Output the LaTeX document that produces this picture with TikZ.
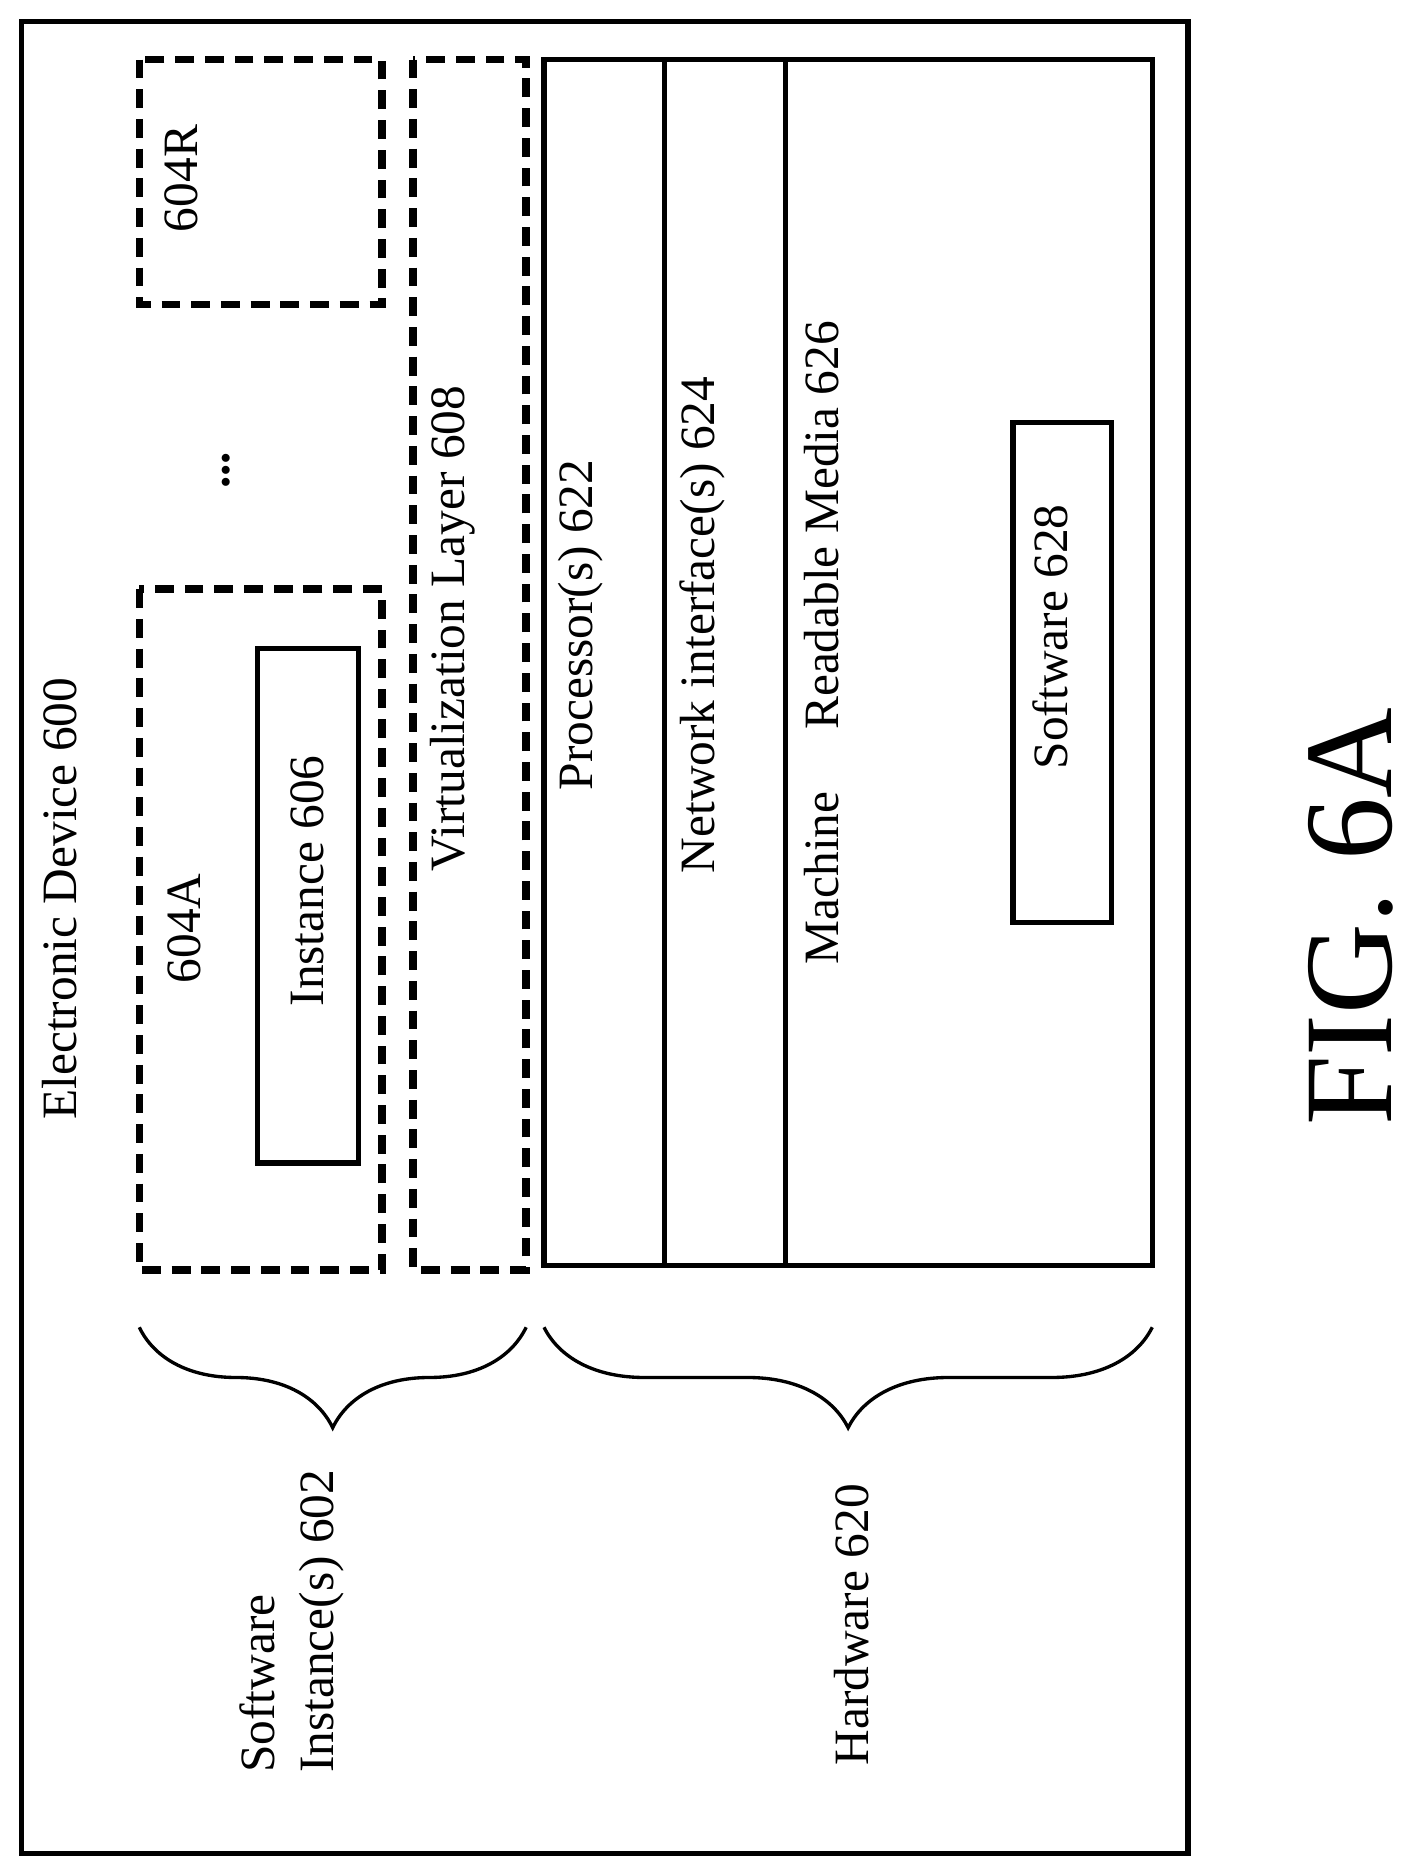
\documentclass[tikz,border=0pt]{standalone}
\usepackage{fontspec}
\setmainfont{Liberation Serif}
\usetikzlibrary{decorations.pathreplacing}
\begin{document}
\begin{tikzpicture}[x=0.01cm, y=-0.01cm, very thick,
                    dbox/.style={draw, dash pattern=on 4.5pt off 2.6pt, line width=1.8pt},
                    lbl/.style={rotate=90, font=\fontsize{11.8}{14}\selectfont, align=left}]
\useasboundingbox (0,0) rectangle (1190,1576);

% device
\draw (18,18) rectangle (998,1557);
\node[lbl] (dev) at (50,755) {Electronic Device 600};

% software instances
\draw[dbox] (117,50) rectangle (321,256);
\node[lbl] (r) at (152,150) {604R};
\node[lbl] (dots) at (190,395) {\textbf{...}};
\draw[dbox] (117,495) rectangle (321,1067);
\node[lbl] (a) at (155,780) {604A};
\draw (216,545) rectangle (301,977);
\node[lbl] (inst) at (258,740) {Instance 606};

% virtualization
\draw[dbox] (347,50) rectangle (442,1067);
\node[lbl] (virt) at (380,528) {Virtualization Layer 608};

% hardware
\draw (457,50) rectangle (968,1063);
\draw (558,50) -- (558,1063);
\draw (660,50) -- (660,1063);
\node[lbl] (proc) at (488,525) {Processor(s) 622};
\node[lbl] (net) at (590,525) {Network interface(s) 624};
\node[lbl] (mem) at (690,540) {Machine\quad\ Readable Media 626};
\draw (851,355) rectangle (934,775);
\node[lbl] (sw) at (882,535) {Software 628};

% braces
\draw[thick, decorate, decoration={brace, amplitude=24pt, aspect=0.5, mirror}] (117,1115) -- (442,1115);
\draw[thick, decorate, decoration={brace, amplitude=24pt, aspect=0.5, mirror}] (457,1115) -- (968,1115);
\node[lbl] (swi) at (245,1362) {Software\\Instance(s) 602};
\node[lbl] (hw) at (715,1365) {Hardware 620};

\node[rotate=90, font=\fontsize{30}{34}\selectfont] (fig) at (1135,770) {FIG. 6A};
\end{tikzpicture}
\end{document}
